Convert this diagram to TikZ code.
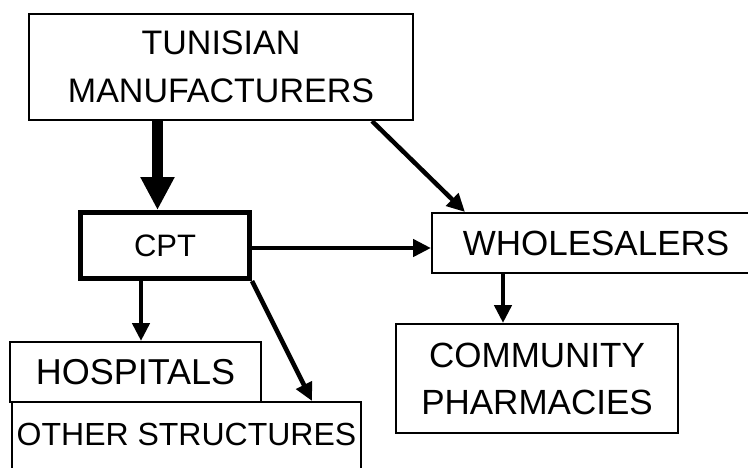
\documentclass[tikz,border=0pt]{standalone}
\usepackage{fontspec}
\setmainfont{Liberation Sans}
\usetikzlibrary{arrows.meta}
\begin{document}
\begin{tikzpicture}[x=1pt,y=-1pt,
  box/.style={draw, line width=2pt, inner sep=0pt},
  arr/.style={line width=4.5pt, -{Triangle[width=17pt,length=18pt]}},
  bigarr/.style={line width=11pt, -{Triangle[width=32pt,length=33pt]}}]
\useasboundingbox (0,0) rectangle (748,467);
\clip (0,0) rectangle (748,467);
\node[box, minimum width=384pt, minimum height=106pt, align=center,
      font=\fontsize{34}{48}\selectfont] (man) at (221,67) {TUNISIAN\\MANUFACTURERS};
\node[box, line width=5pt, minimum width=169pt, minimum height=66pt,
      font=\fontsize{31}{37}\selectfont] (cpt) at (165,245.5) {CPT};
\node[box, minimum width=251pt, minimum height=60pt,
      font=\fontsize{36}{43}\selectfont] (hosp) at (135.5,372) {HOSPITALS};
\node[box, minimum width=349pt, minimum height=98pt] (other) at (186.5,451) {};
\node[anchor=base, font=\fontsize{32}{38}\selectfont] (otherlbl) at (186.5,445) {OTHER STRUCTURES};
\node[box, minimum width=328pt, minimum height=60pt,
      font=\fontsize{35}{42}\selectfont] (whole) at (596,243) {WHOLESALERS};
\node[box, minimum width=282pt, minimum height=109pt, align=center,
      font=\fontsize{35}{47}\selectfont] (comm) at (537,378.5) {COMMUNITY\\PHARMACIES};
\draw[bigarr] ([xshift=-63.5pt]man.south) -- ([xshift=-7.5pt]cpt.north);
\draw[arr] ([xshift=151pt]man.south) -- ([xshift=-131pt]whole.north);
\draw[arr] ([yshift=-2.5pt]cpt.east) -- ([yshift=-5pt]whole.west);
\draw[arr] ([xshift=-24pt]cpt.south) -- ([xshift=5.5pt]hosp.north);
\draw[arr] (cpt.south east) -- ([xshift=125.5pt]other.north);
\draw[arr] ([xshift=-93pt]whole.south) -- ([xshift=-34pt]comm.north);
\end{tikzpicture}
\end{document}
